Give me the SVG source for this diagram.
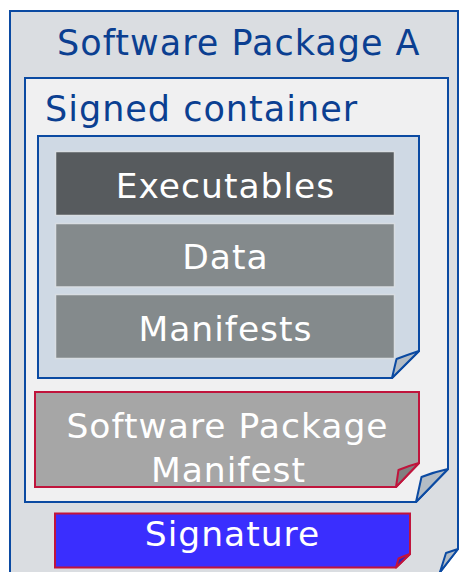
<svg xmlns="http://www.w3.org/2000/svg" width="459" height="572" viewBox="0 0 459 572">
<style>
.title{font-family:"DejaVu Sans",Verdana,sans-serif;font-size:35px;fill:#0b3f91;letter-spacing:1px}
.lbl{font-family:"DejaVu Sans",Verdana,sans-serif;font-size:34.5px;fill:#ffffff;text-anchor:middle;letter-spacing:1px}
.blue{stroke:#0b4aa2;stroke-width:2;stroke-linejoin:miter}
.red{stroke:#c0143c;stroke-width:2}
.flapb{fill:#b3bcc5;stroke:#0b4aa2;stroke-width:2;stroke-linejoin:round}
.row{stroke:#d8dde2;stroke-width:1.5}
</style>
<rect width="459" height="572" fill="#ffffff"/>
<g id="package">
<path class="blue" d="M10,11 H458 V549 L434,580 H10 Z" fill="#dadde1"/>
<path class="flapb" d="M440,572 L446,553 Q452,551 458,549 Z"/>
<text class="title" x="57" y="55">Software Package A</text>
</g>
<g id="signed-container">
<path class="blue" d="M25,78 H448 V469 L416,502 H25 Z" fill="#f0f0f1"/>
<path class="flapb" d="M416,502 L421.5,477 Q434,472 448,469 Z"/>
<text class="title" x="45" y="121">Signed container</text>
</g>
<g id="content">
<path class="blue" d="M38,136 H419 V351 L392,378 H38 Z" fill="#cfd9e4"/>
<path class="flapb" d="M392,378 L396.5,359 Q407,355 419,351 Z"/>
</g>
<g id="executables">
<rect class="row" x="55.5" y="151.5" width="339" height="64" fill="#575b5e"/>
<text class="lbl" x="225.5" y="198">Executables</text>
</g>
<g id="data">
<rect class="row" x="55.5" y="223.5" width="339" height="63.5" fill="#848a8c"/>
<text class="lbl" x="225.5" y="269">Data</text>
</g>
<g id="manifests">
<rect class="row" x="55.5" y="294.5" width="339" height="64" fill="#848a8c"/>
<text class="lbl" x="225.5" y="340.5">Manifests</text>
</g>
<g id="sw-package-manifest">
<path class="red" d="M35,392 H419 V463 L396,487 H35 Z" fill="#a6a6a6"/>
<path class="red" d="M396,487 L398.5,470 Q408,466 419,463 Z" fill="#808080" stroke-linejoin="round"/>
<text class="lbl" x="227.5" y="438">Software Package</text>
<text class="lbl" x="228.5" y="481.5">Manifest</text>
</g>
<g id="signature">
<path class="red" d="M55,513.5 H410 V554 L396,567.5 H55 Z" fill="#3a2efe"/>
<path class="red" d="M396,567.5 L398.5,558.5 Q404,556 410,554 Z" fill="#3020b8" stroke-linejoin="round"/>
<text class="lbl" x="232.5" y="546">Signature</text>
</g>
<g id="connectors"/>
</svg>
